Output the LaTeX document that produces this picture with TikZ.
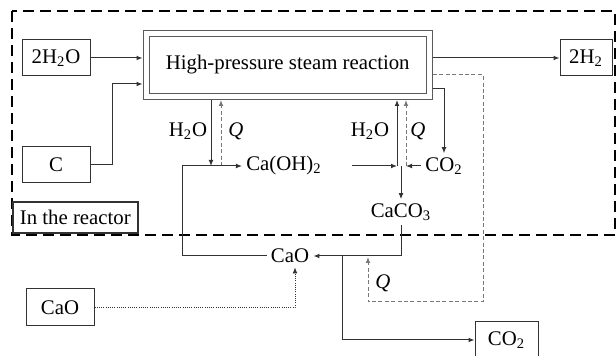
\documentclass[tikz,border=0pt]{standalone}
\usepackage{fontspec}
\setmainfont{Liberation Serif}
\usetikzlibrary{positioning}
\usetikzlibrary{calc}
\usetikzlibrary{arrows.meta}
\definecolor{linegray}{RGB}{50,50,50}
\definecolor{heatgray}{RGB}{120,120,120}
\definecolor{boxgray}{RGB}{90,90,90}

\begin{document}
\begin{tikzpicture}[
        x=0.5pt, y=-0.5pt,
        font=\fontsize{10.4}{12}\selectfont,
        box/.style={draw=linegray, line width=0.5pt, minimum width=34pt,
                    minimum height=18pt, inner sep=0pt},
        chem/.style={inner sep=2pt},
        arrow/.style={-{Latex[length=3pt,width=2.4pt]}, line width=0.5pt, draw=linegray},
        heat/.style={-{Latex[length=3pt,width=2.4pt]}, line width=0.5pt, draw=heatgray,
                     dash pattern=on 2pt off 1.2pt},
        feed/.style={-{Latex[length=3pt,width=2.4pt]}, line width=0.4pt, draw=linegray,
                     dash pattern=on 0.5pt off 0.6pt},
        zone/.style={draw=black, line width=0.7pt, dash pattern=on 5.5pt off 3pt}
    ]
        \useasboundingbox (0,0) rectangle (616,356);

        % reactor border
        \draw[zone] (12,11) rectangle (615,235);
        \node[box, line width=0.8pt, fill=white, minimum width=62.5pt, minimum height=15.5pt,
              anchor=south west] (inside) at (12,234) {In the reactor};

        \node[draw=boxgray, double=white, double distance=2.5pt, line width=0.5pt,
              minimum width=141.75pt, minimum height=31.5pt, outer sep=1.75pt]
              (steam) at (287.75,65) {High-pressure steam reaction};
        \node[box] (water) at (56,58) {2H\textsubscript{2}O};
        \node[box] (carbon) at (56,165) {C};
        \node[box, minimum width=26pt] (hydrogen) at (586,58) {2H\textsubscript{2}};
        \node[box, minimum height=18.5pt] (limein) at (60,307.5) {CaO};
        \node[box, minimum width=31.5pt] (co2out) at (506.5,340) {CO\textsubscript{2}};

        \node[chem] (hydrox) at (284,166) {Ca(OH)\textsubscript{2}};
        \node[chem] (co2) at (444,166) {CO\textsubscript{2}};
        \node[chem] (carb) at (401,212) {CaCO\textsubscript{3}};
        \node[chem] (lime) at (290,256) {CaO};

        \node[chem] (waterL) at (188,131) {H\textsubscript{2}O};
        \node[chem] (heatlabL) at (236,131) {\textit{Q}};
        \node[chem] (waterR) at (370,131) {H\textsubscript{2}O};
        \node[chem] (heatlabR) at (418,131) {\textit{Q}};
        \node[chem] (heatlabB) at (383,283) {\textit{Q}};

        \coordinate (dropL) at (211,166);
        \coordinate (heatL) at (221,166);
        \coordinate (dropR) at (397,166);
        \coordinate (heatR) at (406,166);
        \coordinate (split) at (401,166);
        \coordinate (back) at (182,256);
        \coordinate (fork) at (342,256);
        \coordinate (heatin) at (368,257);

        \draw[arrow] (water) -- (water -| steam.west);
        \draw[arrow] (carbon.east) -- ++(22,0) |- ([yshift=-9.5pt]steam.west);
        \draw[arrow] (steam.east |- hydrogen) -- (hydrogen.west);
        \draw[heat] ([yshift=-5pt]steam.east) -- ++(50,0) -- ++(0,227) -| (heatin);
        \draw[arrow] ([yshift=-12pt]steam.east) -| (co2.north);

        \draw[arrow] (steam.south -| dropL) -- (dropL);
        \draw[heat] (heatL) -- (steam.south -| heatL);
        \draw[arrow] (lime.west) -- (back) |- (hydrox.west);
        \draw[arrow] ([xshift=13pt]hydrox.east) -- (dropR);
        \draw[arrow] (dropR) -- (steam.south -| dropR);
        \draw[heat] (heatR) -- (steam.south -| heatR);
        \draw[arrow] (co2.west) -- (heatR);
        \draw[arrow] (split) -- (carb.north);
        \draw[arrow] (carb.south) |- (lime.east);
        \draw[arrow] (fork) |- (co2out.west);
        \draw[feed] (limein.east) -| ([xshift=2.5pt]lime.south);
    \end{tikzpicture}
\end{document}
